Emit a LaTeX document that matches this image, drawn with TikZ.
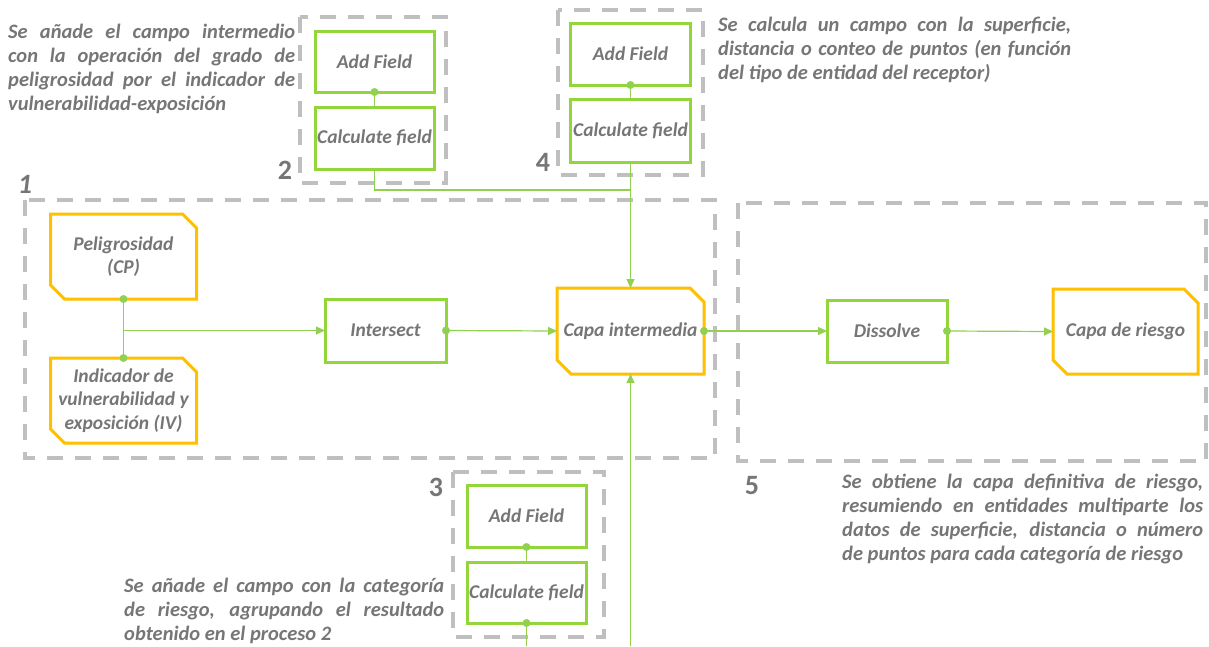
\documentclass[tikz,border=0pt]{standalone}
\usepackage{fontspec}
\setmainfont{Carlito}
\usetikzlibrary{arrows.meta,calc}
\definecolor{gline}{RGB}{146,208,80}
\definecolor{gbox}{RGB}{146,214,60}
\definecolor{obox}{RGB}{255,192,0}
\definecolor{dgray}{RGB}{191,191,191}
\definecolor{tgray}{RGB}{118,118,118}
\newcommand\chamf[1]{\draw[lay] (#1.north west) -- ([xshift=-14pt]#1.north east) -- ([yshift=-14pt]#1.north east) -- (#1.south east) -- ([xshift=14pt]#1.south west) -- ([yshift=14pt]#1.south west) -- cycle;}
\begin{document}
\begin{tikzpicture}[x=1pt,y=-1pt,
  proc/.style={draw=gbox,line width=3pt,inner sep=0pt,outer sep=0pt,align=center,
    font=\fontsize{19.5}{22}\selectfont\bfseries\itshape,text=tgray},
  layer/.style={draw=none,inner sep=0pt,outer sep=0pt,align=center,
    font=\fontsize{19.5}{23.5}\selectfont\bfseries\itshape,text=tgray},
  lay/.style={draw=obox,line width=3pt,line join=miter},
  grp/.style={draw=dgray,line width=4pt,dash pattern=on 16pt off 12pt},
  conn/.style={draw=gline,line width=1.2pt},
  arr/.style={conn,-{Triangle[length=9pt,width=8pt]}},
  note/.style={font=\fontsize{20.5}{24}\selectfont\bfseries\itshape,text=tgray,inner sep=0pt,align=left,anchor=north west},
  num/.style={font=\fontsize{28}{28}\selectfont\bfseries,text=tgray,inner sep=0pt}]
\fill[white] (0,0) rectangle (1209,646);
\useasboundingbox (0,0) rectangle (1209,646);

% groups
\draw[grp] (25,200) rectangle (715,458);
\draw[grp] (300,17) rectangle (446,183);
\draw[grp] (558,10) rectangle (703,175);
\draw[grp] (453,472) rectangle (604,637);
\draw[grp] (738,203) rectangle (1206,461);

% nodes
\node[layer,minimum width=146pt,minimum height=85pt] (peli) at (123.5,256.5) {Peligrosidad\\(CP)};
\node[layer,minimum width=146pt,minimum height=85pt] (ind) at (123.5,400.5) {Indicador de\\vulnerabilidad y\\exposición (IV)};
\node[proc,minimum width=121pt,minimum height=63pt] (inter) at (385.5,330.5) {Intersect};
\node[layer,minimum width=147pt,minimum height=86pt] (capa) at (630.5,331) {Capa intermedia};
\node[proc,minimum width=120pt,minimum height=62pt] (diss) at (887,331) {Dissolve};
\node[layer,minimum width=145pt,minimum height=85pt] (riesgo) at (1125.5,331.5) {Capa de riesgo};
\chamf{peli}\chamf{ind}\chamf{capa}\chamf{riesgo}

\node[proc,minimum width=119pt,minimum height=61pt] (add2) at (374.5,61.5) {Add Field};
\node[proc,minimum width=119pt,minimum height=62pt] (calc2) at (374.5,138) {Calculate field};
\node[proc,minimum width=120pt,minimum height=62pt] (add4) at (630.5,54) {Add Field};
\node[proc,minimum width=120pt,minimum height=63pt] (calc4) at (630.5,130.5) {Calculate field};
\node[proc,minimum width=119pt,minimum height=62pt] (add3) at (526.5,516) {Add Field};
\node[proc,minimum width=119pt,minimum height=61pt] (calc3) at (526.5,592.5) {Calculate field};

% connectors
\coordinate (j4) at (630.5,190);
\coordinate (b1) at (630.5,646);
\coordinate (b3) at (526.5,646);
\draw[conn] (peli.south) -- (ind.north);
\draw[arr] (peli.south |- inter.west) -- (inter.west);
\draw[arr] (inter.east) -- (capa.west);
\draw[arr] (capa.east) -- (diss.west);
\draw[arr] (diss.east) -- (riesgo.west);
\draw[conn] (add2.south) -- (calc2.north);
\draw[conn] (add4.south) -- (calc4.north);
\draw[conn] (add3.south) -- (calc3.north);
\draw[conn] (calc2.south) |- (j4);
\draw[arr] (calc4.south) -- (capa.north);
\draw[arr] (b1) -- (capa.south);
\draw[conn] (calc3.south) -- (b3);
\foreach \p in {peli.south,ind.north,inter.east,capa.east,diss.east,add2.south,add4.south,add3.south,calc3.south}
  \fill[gline] (\p) circle (4pt);

% numbers
\node[num] (n1) at (25,184) {\itshape 1};
\node[num] (n2) at (285,170) {2};
\node[num] (n4) at (543,162) {4};
\node[num] (n3) at (436,487) {3};
\node[num] (n5) at (752,486) {5};

% notes
\node[note] (t2) at (8,24) {\makebox[287pt][s]{Se añade el campo intermedio}\\\makebox[287pt][s]{con la operación del grado de}\\\makebox[287pt][s]{peligrosidad por el indicador de}\\vulnerabilidad-exposición};
\node[note] (t4) at (718,17) {\makebox[353pt][s]{Se calcula un campo con la superficie,}\\\makebox[353pt][s]{distancia o conteo de puntos (en función}\\del tipo de entidad del receptor)};
\node[note] (t3) at (124,578) {\makebox[320pt][s]{Se añade el campo con la categoría}\\\makebox[320pt][s]{de riesgo, agrupando el resultado}\\obtenido en el proceso 2};
\node[note] (t5) at (842,474) {\makebox[361pt][s]{Se obtiene la capa definitiva de riesgo,}\\\makebox[361pt][s]{resumiendo en entidades multiparte los}\\\makebox[361pt][s]{datos de superficie, distancia o número}\\de puntos para cada categoría de riesgo};
\end{tikzpicture}
\end{document}
